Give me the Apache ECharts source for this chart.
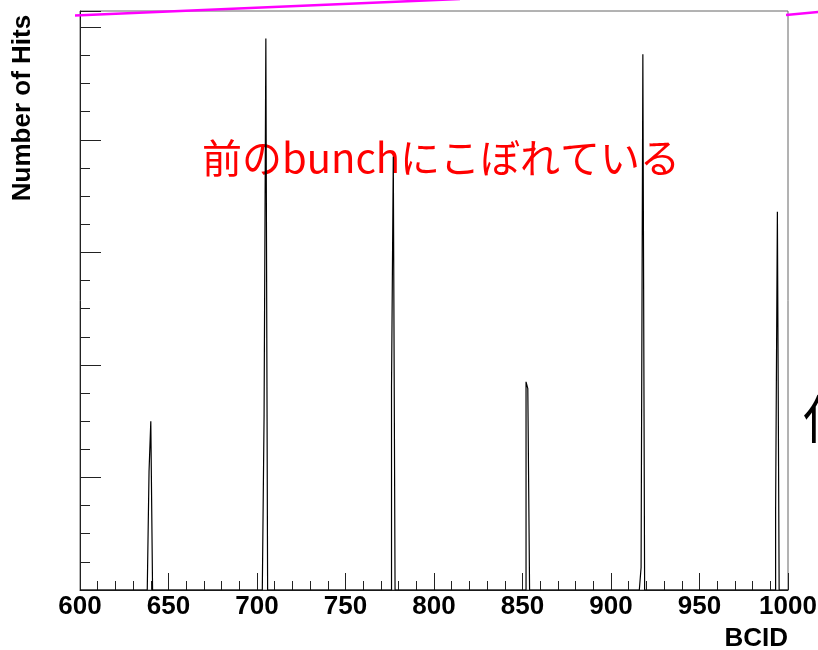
<!DOCTYPE html>
<html>
<head>
<meta charset="utf-8">
<script src="https://cdn.jsdelivr.net/npm/echarts@6/dist/echarts.min.js"></script>
<style>
  html, body { margin: 0; padding: 0; background: #fff; }
  #chart { width: 818px; height: 650px; }
</style>
</head>
<body>
<div id="chart"></div>
<script>
// BCID histogram: filled bins (left edge of each 1-wide bin) and their hit counts
const bcidBins = [639, 640, 704, 705, 776, 777, 852, 853, 917, 918, 993, 994];
const hitCounts = [105, 150, 155, 490, 180, 385, 185, 179, 20, 476, 70, 336];
const xRange = [600, 1000];
const xTickStep = 50;
const yTickStep = 100;
const yMax = 1.05 * Math.max(...hitCounts);

// step outline: one point per bin edge, empty bins are zero
const counts = new Map(bcidBins.map((b, i) => [b, hitCounts[i]]));
const outline = [];
for (let b = xRange[0]; b < xRange[1]; b++) outline.push([b, counts.get(b) || 0]);
outline.push([xRange[1], 0]);

const axisFont = { fontFamily: 'Liberation Sans, Arial, sans-serif', fontWeight: 'bold', fontSize: 26, color: '#000' };

const chart = echarts.init(document.getElementById('chart'), null, { renderer: 'canvas' });
chart.setOption({
  animation: false,
  backgroundColor: '#fff',
  grid: {
    left: 80, top: 11, right: 30, bottom: 60,
    outerBoundsMode: 'none', containLabel: false,
    show: true, borderColor: '#666', borderWidth: 1, backgroundColor: 'transparent'
  },
  xAxis: {
    type: 'value', min: xRange[0], max: xRange[1], interval: xTickStep,
    name: 'BCID', nameLocation: 'end', nameGap: 0,
    nameTextStyle: Object.assign({}, axisFont, { align: 'right', verticalAlign: 'top', padding: [36, 0, 0, 0] }),
    axisLine: { show: true, lineStyle: { color: '#222', width: 1 } },
    axisTick: { show: true, inside: true, length: 17, lineStyle: { color: '#222' } },
    minorTick: { show: true, splitNumber: 5, length: 9, lineStyle: { color: '#222' } },
    splitLine: { show: false },
    axisLabel: Object.assign({}, axisFont, { margin: 4, formatter: (v) => String(v) })
  },
  yAxis: [
    {
      type: 'value', min: 0, max: yMax, interval: yTickStep / 4,
      axisLine: { show: true, onZero: false, lineStyle: { color: '#222', width: 1 } },
      axisTick: { show: true, inside: true, length: 10, lineStyle: { color: '#222' } },
      splitLine: { show: false },
      axisLabel: { show: false }
    },
    {
      type: 'value', min: 0, max: yMax, interval: yTickStep, position: 'left', offset: 0,
      axisLine: { show: false },
      axisTick: { show: true, inside: true, length: 21, lineStyle: { color: '#222' } },
      splitLine: { show: false },
      axisLabel: { show: false }
    }
  ],
  series: [{
    type: 'line', step: 'end', data: outline, yAxisIndex: 0,
    symbol: 'none', z: 3,
    lineStyle: { color: '#000', width: 1.2 }
  }],
  graphic: [
    {
      type: 'text', x: 23, y: 108, rotation: Math.PI / 2, z: 5,
      style: { text: 'Number of Hits', font: 'bold 26px "Liberation Sans", Arial, sans-serif', fill: '#000', align: 'center', verticalAlign: 'middle' }
    },
    {
      type: 'text', x: 202, y: 158, z: 1,
      style: { text: '前のbunchにこぼれている', font: '40px "Noto Sans CJK JP", sans-serif', fill: '#ff0000', align: 'left', verticalAlign: 'middle' }
    },
    {
      type: 'text', x: 803, y: 419, z: 1,
      style: { text: '位', font: '52px "Noto Sans CJK JP", sans-serif', fill: '#000', align: 'left', verticalAlign: 'middle' }
    },
    {
      type: 'line', z: 10,
      shape: { x1: 75, y1: 15.5, x2: 460, y2: -1 },
      style: { stroke: '#ff00ff', lineWidth: 2.5 }
    },
    {
      type: 'line', z: 10,
      shape: { x1: 786, y1: 15, x2: 830, y2: 11 },
      style: { stroke: '#ff00ff', lineWidth: 2.5 }
    }
  ]
});
</script>
</body>
</html>
